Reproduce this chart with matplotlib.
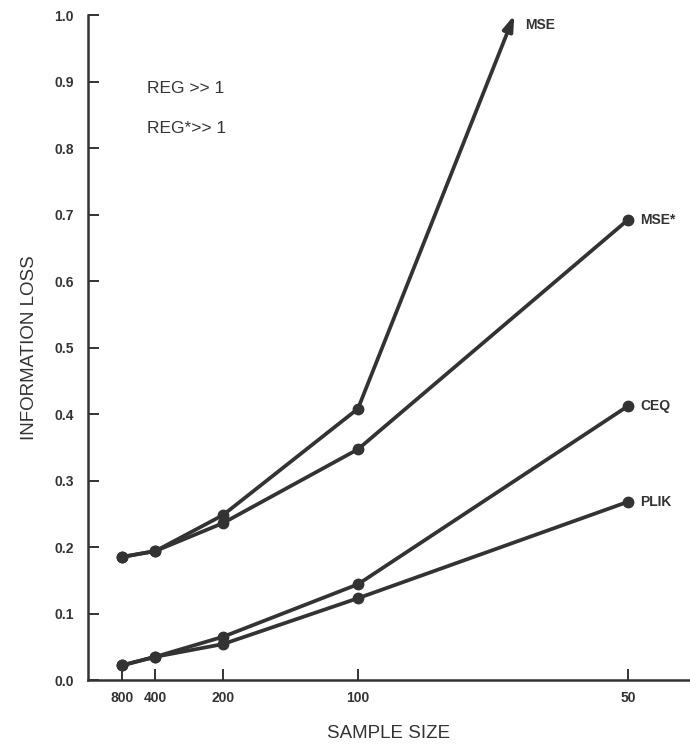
import numpy as np
import matplotlib.pyplot as plt

plt.rcParams['font.family'] = ['Liberation Sans', 'DejaVu Sans']

# Data
sample_size = [800, 400, 200, 100, 50]
tick_labels = ["800", "400", "200", "100", "50"]
mse = [0.185, 0.194, 0.248, 0.408]          # continues off the chart (arrow)
mse_at_50 = 1.43                            # extrapolated, beyond the y range
mse_star = [0.185, 0.194, 0.236, 0.347, 0.692]
ceq = [0.022, 0.035, 0.065, 0.144, 0.412]
plik = [0.022, 0.035, 0.054, 0.123, 0.268]

ink = "#333333"
inv = 1.0 / np.array(sample_size, dtype=float)

fig = plt.figure(figsize=(6.9, 7.52), dpi=100)
ax = fig.add_axes([0.1275, 0.0957, 0.8725, 0.8843])

style = dict(color=ink, lw=2.7, marker="o", ms=7.5, solid_capstyle="round")
ax.plot(inv[:4], mse, **style)
ax.plot(inv, mse_star, **style)
ax.plot(inv, ceq, **style)
ax.plot(inv, plik, **style)

# MSE runs off the top: arrow along the segment 100 -> 50, cut at 1.0
frac = (1.0 - mse[-1]) / (mse_at_50 - mse[-1])
x_tip = inv[3] + frac * (inv[4] - inv[3])
ax.annotate("", xy=(x_tip, 1.0), xytext=(inv[3], mse[-1]),
            arrowprops=dict(arrowstyle="-|>,head_length=0.9,head_width=0.3",
                            color=ink, lw=2.7, shrinkA=0, shrinkB=0))
ax.annotate("MSE", (x_tip, 1.0), xytext=(8, -7), textcoords="offset points",
            fontsize=10, fontweight="bold", color=ink, va="center")

for name, vals in [("MSE*", mse_star), ("CEQ", ceq), ("PLIK", plik)]:
    ax.annotate(name, (inv[-1], vals[-1]), xytext=(9, 0), textcoords="offset points",
                fontsize=10, fontweight="bold", color=ink, va="center")

ax.text(0.0022, 0.89, "REG >> 1", fontsize=12.5, color=ink, va="center")
ax.text(0.0022, 0.83, "REG*>> 1", fontsize=12.5, color=ink, va="center")

ax.set_xlim(0, 0.0223)
ax.set_ylim(0, 1.0)
ax.set_xticks(inv)
ax.set_xticklabels(tick_labels)
ax.set_yticks(np.arange(0, 1.01, 0.1))
ax.set_yticklabels([f"{v:.1f}" for v in np.arange(0, 1.01, 0.1)])

for s in ["top", "right"]:
    ax.spines[s].set_visible(False)
for s in ["left", "bottom"]:
    ax.spines[s].set_color(ink)
    ax.spines[s].set_linewidth(1.8)
ax.tick_params(direction="in", length=8, width=1.4, color=ink, labelcolor=ink,
               labelsize=10, pad=8)
ax.tick_params(axis="y", pad=10)
for lab in ax.get_xticklabels() + ax.get_yticklabels():
    lab.set_fontweight("bold")

ax.set_xlabel("SAMPLE SIZE", fontsize=13.5, color=ink, labelpad=14)
ax.set_ylabel("INFORMATION LOSS", fontsize=13.5, color=ink, labelpad=12)

fig.savefig("out.png", dpi=100)
